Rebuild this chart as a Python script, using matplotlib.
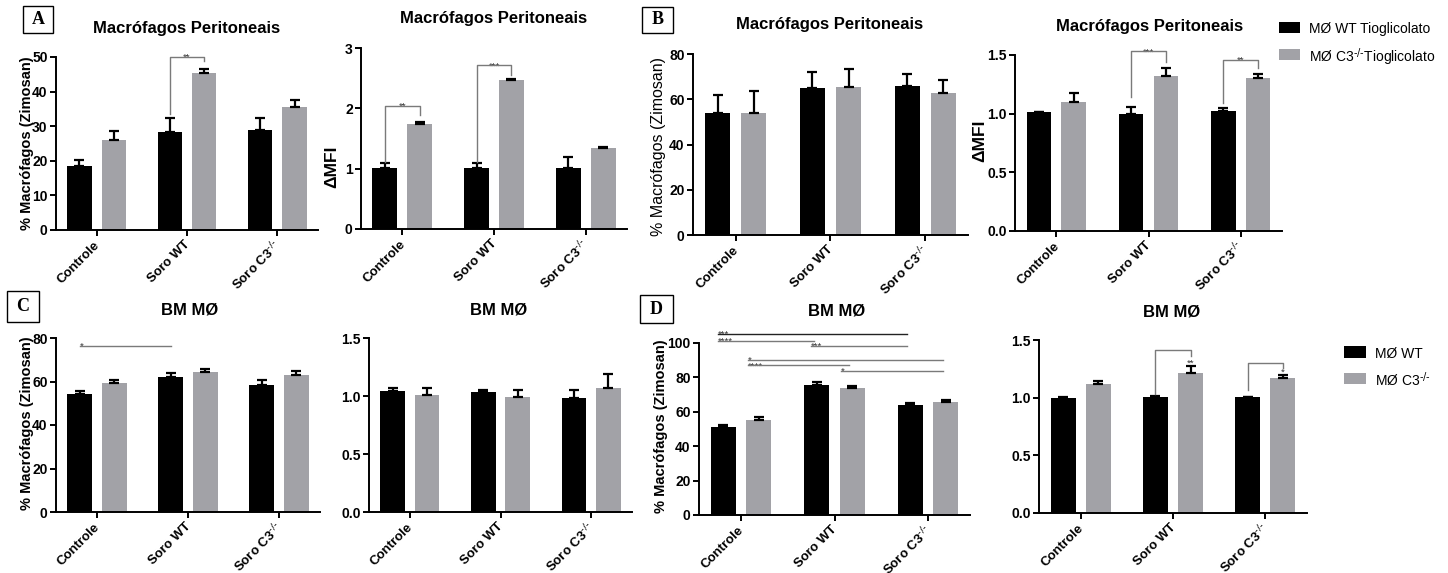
import matplotlib
matplotlib.use("Agg")
import matplotlib.pyplot as plt
from matplotlib.patches import Rectangle
from matplotlib.transforms import offset_copy
import numpy as np

plt.rcParams["font.family"] = ["Liberation Sans", "DejaVu Sans"]
plt.rcParams["mathtext.default"] = "regular"

W, H = 1448, 573

groups = ["Controle", "Soro WT", r"Soro C3$^{\text{-/-}}$"]

# A: peritoneal macrophages (thioglycolate), % zymosan uptake and ΔMFI
a_pct_wt = [18.6, 28.2, 28.9]
a_pct_wt_err = [1.5, 4.3, 3.4]
a_pct_c3 = [26.0, 45.5, 35.6]
a_pct_c3_err = [2.7, 1.1, 1.9]
a_mfi_wt = [1.01, 1.01, 1.01]
a_mfi_wt_err = [0.08, 0.08, 0.19]
a_mfi_c3 = [1.74, 2.475, 1.35]
a_mfi_c3_err = [0.03, 0.015, 0.01]

# B: peritoneal macrophages (thioglycolate), second experiment
b_pct_wt = [53.9, 64.9, 66.0]
b_pct_wt_err = [7.8, 7.0, 5.3]
b_pct_c3 = [53.9, 65.4, 62.7]
b_pct_c3_err = [9.6, 8.0, 5.9]
b_mfi_wt = [1.01, 0.997, 1.023]
b_mfi_wt_err = [0.006, 0.063, 0.022]
b_mfi_c3 = [1.10, 1.32, 1.30]
b_mfi_c3_err = [0.08, 0.07, 0.035]

# C: bone-marrow macrophages
c_pct_wt = [54.3, 62.1, 58.2]
c_pct_wt_err = [1.2, 1.8, 2.3]
c_pct_c3 = [59.2, 64.5, 63.1]
c_pct_c3_err = [1.3, 1.2, 1.6]
c_mfi_wt = [1.04, 1.032, 0.983]
c_mfi_wt_err = [0.026, 0.023, 0.066]
c_mfi_c3 = [1.009, 0.991, 1.072]
c_mfi_c3_err = [0.06, 0.058, 0.115]

# D: bone-marrow macrophages, second experiment
d_pct_wt = [51.2, 75.6, 63.8]
d_pct_wt_err = [1.1, 1.5, 1.1]
d_pct_c3 = [55.0, 73.8, 65.9]
d_pct_c3_err = [2.0, 1.4, 1.0]
d_mfi_wt = [0.995, 1.007, 1.004]
d_mfi_wt_err = [0.012, 0.004, 0.002]
d_mfi_c3 = [1.116, 1.214, 1.168]
d_mfi_c3_err = [0.032, 0.061, 0.029]

BLACK = "#000000"
GREY = "#A2A2A7"
LINE_GREY = "#7a7a7a"
STAR_COL = "#333333"
OFF = 0.19
BW = 0.27

fig = plt.figure(figsize=(W / 100, H / 100), dpi=100)


def make_axes(x0, x1, ytop, ybot):
    return fig.add_axes([x0 / W, 1 - ybot / H, (x1 - x0) / W, (ybot - ytop) / H])


def bar_x(i, series):
    return i + (-OFF if series == 0 else OFF)


def draw_bars(ax, wt, wt_err, c3, c3_err, ymax, yticks, fmt):
    x = np.arange(len(groups))
    for s, (vals, errs, col) in enumerate([(wt, wt_err, BLACK), (c3, c3_err, GREY)]):
        xs = x + (-OFF if s == 0 else OFF)
        ax.bar(xs, vals, width=BW, color=col, edgecolor="none", zorder=2)
        ax.errorbar(xs, vals, yerr=[np.zeros(len(vals)), errs], fmt="none",
                    ecolor="black", elinewidth=1.6, capsize=3.8, capthick=1.6, zorder=3)
    ax.set_xlim(-0.45, 2.45)
    ax.set_ylim(0, ymax)
    ax.set_yticks(yticks)
    ax.set_yticklabels([fmt.format(t) for t in yticks], fontsize=10, fontweight="bold")
    ax.set_xticks(x)
    ax.set_xticklabels(groups, fontsize=9.5, fontweight="bold", rotation=45,
                       ha="right", va="center_baseline", rotation_mode="anchor")
    for sp in ["top", "right"]:
        ax.spines[sp].set_visible(False)
    for sp in ["left", "bottom"]:
        ax.spines[sp].set_linewidth(1.4)
    ax.tick_params(axis="both", width=1.4, length=4, pad=2)
    ax.tick_params(axis="x", pad=4.7)
    ax.patch.set_alpha(0)


def star_text(ax, x, y, label, ha):
    # '*' glyphs sit high in the em box; drop the baseline so they rest on the line
    tr = offset_copy(ax.transData, fig=fig, x=0, y=-2.2, units="points")
    ax.text(x, y, label, ha=ha, va="baseline", fontsize=6.8, color=STAR_COL,
            transform=tr, clip_on=False)


def bracket(ax, i, j, y_top, y_left, y_right, label, label_y=None):
    xl = bar_x(i, 0)
    xr = bar_x(j, 1)
    ax.plot([xl, xl, xr, xr], [y_left, y_top, y_top, y_right], color=LINE_GREY,
            lw=1.0, clip_on=False, zorder=4)
    if label_y is not None:
        star_text(ax, xr, label_y, label, "center")
    else:
        star_text(ax, (xl + xr) / 2, y_top, label, "center")


def span_line(ax, xa, xb, y, label, color=LINE_GREY):
    ax.plot([xa, xb], [y, y], color=color, lw=1.0, clip_on=False, zorder=4)
    star_text(ax, xa, y, label, "left")


def panel_letter(x0, y0, x1, y1, letter):
    fig.add_artist(Rectangle((x0 / W, 1 - y1 / H), (x1 - x0) / W, (y1 - y0) / H,
                             transform=fig.transFigure, fill=False, ec="black", lw=1.0))
    fig.text((x0 + x1) / 2 / W, 1 - (y0 + y1) / 2 / H, letter, ha="center", va="center",
             fontsize=13, fontweight="bold", family="Liberation Serif")


def ftext(x, y, s, **kw):
    fig.text(x / W, 1 - y / H, s, **kw)


# ---- A ----
axA1 = make_axes(56, 318, 57, 230)
draw_bars(axA1, a_pct_wt, a_pct_wt_err, a_pct_c3, a_pct_c3_err, 50,
          [0, 10, 20, 30, 40, 50], "{:g}")
bracket(axA1, 1, 1, 50.0, a_pct_wt[1] + a_pct_wt_err[1] + 0.9, 48.8, "**")

axA2 = make_axes(361, 627, 48, 229)
draw_bars(axA2, a_mfi_wt, a_mfi_wt_err, a_mfi_c3, a_mfi_c3_err, 3, [0, 1, 2, 3], "{:g}")
bracket(axA2, 0, 0, 2.04, a_mfi_wt[0] + a_mfi_wt_err[0] + 0.02, 1.89, "**")
bracket(axA2, 1, 1, 2.71, a_mfi_wt[1] + a_mfi_wt_err[1] + 0.02, 2.56, "***")

# ---- B ----
axB1 = make_axes(693, 968, 54, 235)
draw_bars(axB1, b_pct_wt, b_pct_wt_err, b_pct_c3, b_pct_c3_err, 80,
          [0, 20, 40, 60, 80], "{:g}")

axB2 = make_axes(1015, 1282, 55, 231)
draw_bars(axB2, b_mfi_wt, b_mfi_wt_err, b_mfi_c3, b_mfi_c3_err, 1.5,
          [0, 0.5, 1.0, 1.5], "{:.1f}")
bracket(axB2, 1, 1, 1.53, b_mfi_wt[1] + b_mfi_wt_err[1] + 0.08, 1.44, "***")
bracket(axB2, 2, 2, 1.46, b_mfi_wt[2] + b_mfi_wt_err[2] + 0.05, 1.39, "**")

# ---- C ----
axC1 = make_axes(56, 320, 338, 512)
draw_bars(axC1, c_pct_wt, c_pct_wt_err, c_pct_c3, c_pct_c3_err, 80,
          [0, 20, 40, 60, 80], "{:g}")
span_line(axC1, bar_x(0, 0), bar_x(1, 0), 76.5, "*")

axC2 = make_axes(369, 632, 338, 512)
draw_bars(axC2, c_mfi_wt, c_mfi_wt_err, c_mfi_c3, c_mfi_c3_err, 1.5,
          [0, 0.5, 1.0, 1.5], "{:.1f}")

# ---- D ----
axD1 = make_axes(699, 970, 343, 515)
draw_bars(axD1, d_pct_wt, d_pct_wt_err, d_pct_c3, d_pct_c3_err, 100,
          [0, 20, 40, 60, 80, 100], "{:g}")
d_lines = [  # (group a, group b, series, height, label)
    (0, 2, 0, 105.2, "***"),
    (0, 1, 0, 101.4, "****"),
    (1, 2, 0, 98.3, "***"),
    (0, 2, 1, 90.1, "*"),
    (0, 1, 1, 87.0, "****"),
    (1, 2, 1, 83.7, "*"),
]
for k, (ga, gb, s, y, lab) in enumerate(d_lines):
    xa = bar_x(ga, s) - (0.06 if s == 0 else 0.12)
    xb = bar_x(gb, s) - 0.03
    span_line(axD1, xa, xb, y, lab, color="#222222" if k == 0 else LINE_GREY)

axD2 = make_axes(1039, 1307, 340, 513)
draw_bars(axD2, d_mfi_wt, d_mfi_wt_err, d_mfi_c3, d_mfi_c3_err, 1.5,
          [0, 0.5, 1.0, 1.5], "{:.1f}")
bracket(axD2, 1, 1, 1.413, d_mfi_wt[1] + d_mfi_wt_err[1] + 0.025, 1.36, "**",
        label_y=d_mfi_c3[1] + d_mfi_c3_err[1] + 0.03)
bracket(axD2, 2, 2, 1.298, d_mfi_wt[2] + d_mfi_wt_err[2] + 0.06, 1.255, "*",
        label_y=d_mfi_c3[2] + d_mfi_c3_err[2] + 0.03)

# titles
title_kw = dict(ha="center", va="center", fontsize=12, fontweight="bold")
ftext(187, 28, "Macrófagos Peritoneais", **title_kw)
ftext(494, 19, "Macrófagos Peritoneais", **title_kw)
ftext(830, 24, "Macrófagos Peritoneais", **title_kw)
ftext(1150, 26, "Macrófagos Peritoneais", **title_kw)
ftext(190, 310, "BM MØ", **title_kw)
ftext(499, 310, "BM MØ", **title_kw)
ftext(837, 311, "BM MØ", **title_kw)
ftext(1172, 312, "BM MØ", **title_kw)

# y-axis labels
ylab_kw = dict(ha="center", va="center", rotation=90)
ftext(27, 143, "% Macrófagos (Zimosan)", fontsize=10.5, fontweight="bold", **ylab_kw)
ftext(332, 167, "ΔMFI", fontsize=12.5, fontweight="bold", **ylab_kw)
ftext(659, 147, "% Macrófagos (Zimosan)", fontsize=11.5, **ylab_kw)
ftext(980, 141, "ΔMFI", fontsize=12.5, fontweight="bold", **ylab_kw)
ftext(27, 423, "% Macrófagos (Zimosan)", fontsize=10.5, fontweight="bold", **ylab_kw)
ftext(661, 426, "% Macrófagos (Zimosan)", fontsize=10.5, fontweight="bold", **ylab_kw)

# panel letters
panel_letter(23, 6, 53, 33, "A")
panel_letter(642, 7, 673, 33, "B")
panel_letter(7, 291, 39, 322, "C")
panel_letter(640, 295, 673, 323, "D")


# legends
def legend_entry(x0, y0, x1, y1, color, label):
    fig.add_artist(Rectangle((x0 / W, 1 - y1 / H), (x1 - x0) / W, (y1 - y0) / H,
                             transform=fig.transFigure, color=color, lw=0))
    ftext(x1 + 9, (y0 + y1) / 2, label, ha="left", va="center_baseline", fontsize=10)


legend_entry(1279, 22, 1300, 33, BLACK, "MØ WT Tioglicolato")
legend_entry(1279, 49, 1300, 60, GREY, r"MØ C3$^{\text{-/-}}$Tioglicolato")
legend_entry(1344, 346, 1366, 358, BLACK, "MØ WT")
legend_entry(1344, 373, 1366, 384, GREY, r"MØ C3$^{\text{-/-}}$")

fig.savefig("out.png", dpi=100)
